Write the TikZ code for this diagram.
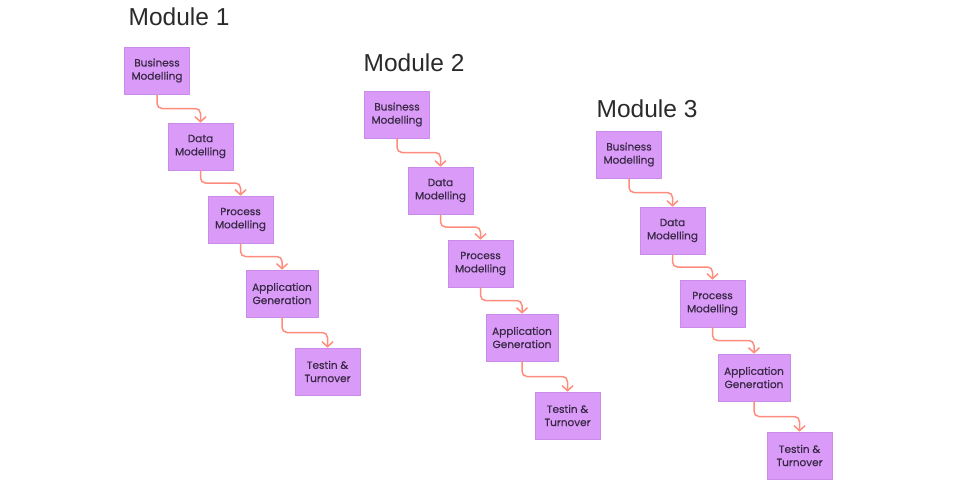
\documentclass[tikz,border=0pt]{standalone}
\usepackage{fontspec}
\setmainfont{Liberation Sans}
\newfontfamily\boxfont[FakeBold=0.5]{Poppins}
\usetikzlibrary{arrows.meta,calc}
\definecolor{boxfill}{HTML}{D99BF7}
\definecolor{boxline}{HTML}{CB8BEA}
\definecolor{conncol}{HTML}{FF8C7C}
\definecolor{titlecol}{HTML}{2A2A2A}
\definecolor{boxtext}{HTML}{3A2946}
\tikzset{
  box/.style={rectangle, draw=boxline, line width=0.6pt, fill=boxfill, minimum width=65pt, minimum height=47pt, inner sep=2pt, align=center, text=boxtext, font=\boxfont\fontsize{10.5}{13.2}\selectfont},
  widebox/.style={box, minimum width=72pt},
  modtitle/.style={anchor=base west, inner sep=0pt, text=titlecol, font=\fontsize{24.5}{30}\selectfont},
  conn/.style={draw=conncol, line width=1.5pt, rounded corners=5pt, -{Straight Barb[length=5pt,width=11pt,line width=1.5pt]}}
}
\begin{document}
\begin{tikzpicture}[x=1pt,y=-1pt]
\useasboundingbox (0,0) rectangle (980,496);
\foreach \m/\dx/\dy/\tx/\ty in {1/0/0/128.5/25.7,2/240/44/363.5/71.7,3/472/84/596.5/117.7}{
  \node[modtitle] (title\m) at (\tx,\ty) {Module \m};
  \begin{scope}[shift={(\dx,\dy)}]
    \node[box] (b\m) at (157,70.5) {Business\\Modelling};
    \node[box] (d\m) at (200.5,146.5) {Data\\Modelling};
    \node[box] (p\m) at (240.5,219.5) {Process\\Modelling};
    \node[widebox] (a\m) at (282,293.5) {Application\\Generation};
    \node[box] (t\m) at (327.5,371.5) {Testin \&\\Turnover};
    \draw[conn] (b\m.south) |- ($(b\m.south)!0.5!(d\m.north)$) -| (d\m.north);
    \draw[conn] (d\m.south) |- ($(d\m.south)!0.5!(p\m.north)$) -| (p\m.north);
    \draw[conn] (p\m.south) |- ($(p\m.south)!0.5!(a\m.north)$) -| (a\m.north);
    \draw[conn] (a\m.south) |- ($(a\m.south)!0.5!(t\m.north)$) -| (t\m.north);
  \end{scope}
}
\end{tikzpicture}
\end{document}
